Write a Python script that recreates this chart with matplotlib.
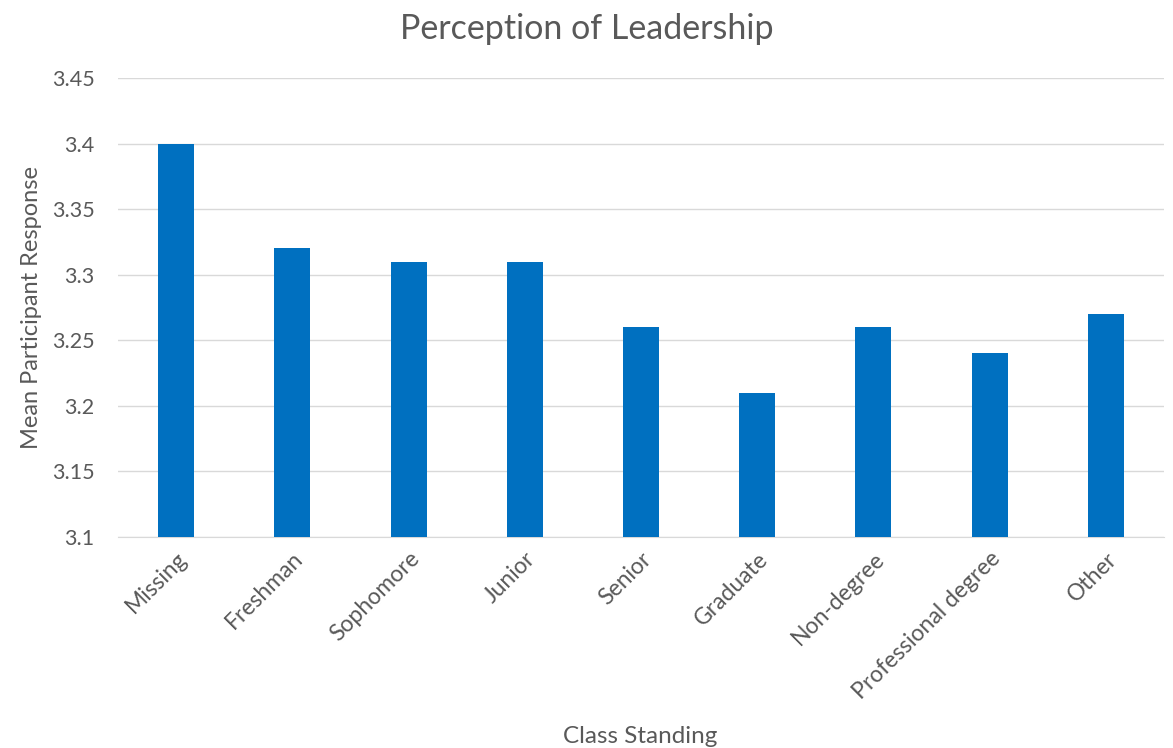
import matplotlib
matplotlib.use("Agg")
import matplotlib.pyplot as plt

categories = ["Missing", "Freshman", "Sophomore", "Junior", "Senior", "Graduate",
              "Non-degree", "Professional degree", "Other"]
values = [3.40, 3.32, 3.31, 3.31, 3.26, 3.21, 3.26, 3.24, 3.27]
yticks = [3.1, 3.15, 3.2, 3.25, 3.3, 3.35, 3.4, 3.45]
ytick_labels = ["3.1", "3.15", "3.2", "3.25", "3.3", "3.35", "3.4", "3.45"]

plt.rcParams['font.family'] = ['Lato', 'DejaVu Sans']
text_color = "#595959"

fig = plt.figure(figsize=(11.73, 7.48), dpi=100)
ax = fig.add_axes([0.1006, 0.2821, 0.8917, 0.6136])

x = list(range(len(categories)))
ax.bar(x, [v - 3.1 for v in values], bottom=3.1, width=0.31, color="#0070C0", zorder=3)

ax.set_xlim(-0.5, len(categories) - 0.5)
ax.set_ylim(3.1, 3.45)
ax.set_yticks(yticks)
ax.set_yticklabels(ytick_labels)
ax.set_xticks(x)
ax.set_xticklabels(categories, rotation=45, ha='right', rotation_mode='anchor')

ax.grid(axis='y', color="#D9D9D9", linewidth=1, zorder=0)
for s in ['top', 'right', 'left']:
    ax.spines[s].set_visible(False)
ax.spines['bottom'].set_color("#D9D9D9")
ax.tick_params(axis='both', length=0, colors=text_color, pad=8)
ax.tick_params(axis='x', labelsize=16.5)
ax.tick_params(axis='y', labelsize=15.5, pad=17)

ax.set_ylabel("Mean Participant Response", fontsize=17, color=text_color)
ax.yaxis.set_label_coords(-0.073, 0.5)
fig.text(0.546, 0.007, "Class Standing", fontsize=17.5, color=text_color, ha='center')
fig.text(0.5, 0.948, "Perception of Leadership", fontsize=24.5, color=text_color, ha='center')

fig.savefig("out.png", dpi=100)
